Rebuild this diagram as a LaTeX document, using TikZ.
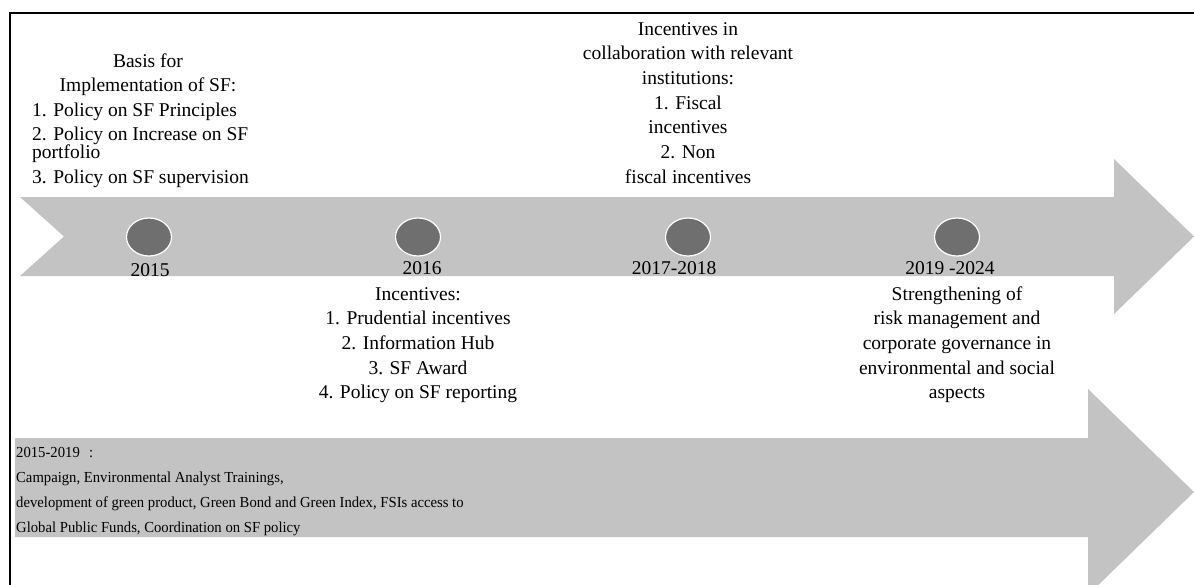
\documentclass[tikz,border=0pt]{standalone}
\usepackage{fontspec}
\setmainfont{Liberation Serif}
\newfontfamily\narrowserif[FakeStretch=0.96]{Liberation Serif}
\usetikzlibrary{shapes.geometric}
\definecolor{arrowgrey}{HTML}{C3C3C3}
\definecolor{dotgrey}{HTML}{6F6F6F}
\newcommand{\mylines}[2]{\begin{tabular}[t]{@{}#1@{}}#2\end{tabular}}
\begin{document}
\begin{tikzpicture}[x=1pt,y=-1pt,
  big/.style={font=\fontsize{19.5}{24.7}\selectfont, inner sep=0pt, anchor=base},
  small/.style={font=\narrowserif\fontsize{15.3}{25.3}\selectfont, inner sep=0pt, anchor=base west},
  dot/.style={ellipse, fill=dotgrey, draw=white, line width=1.2pt, minimum width=45pt, minimum height=38pt, inner sep=0pt},
  band/.style={fill=arrowgrey, draw=none},
  frame/.style={line width=2pt, draw=black}]
\useasboundingbox (0,0) rectangle (1194,584);
\clip (0,0) rectangle (1194,584);
% frame
\draw[frame] (10,590) -- (10,12.5) -- (1200,12.5);
% top arrow
\fill[band] (20,197) -- (1114,197) -- (1114,159) -- (1194,236.5) -- (1114,314) -- (1114,276) -- (20,276) -- (64,236.5) -- cycle;
% bottom arrow
\fill[band] (15,438) -- (1088,438) -- (1088,389) -- (1194,492) -- (1088,595) -- (1088,537) -- (15,537) -- cycle;
% dots
\node[dot] (d1) at (149,237) {};
\node[dot] (d2) at (418,237) {};
\node[dot] (d3) at (688,237) {};
\node[dot] (d4) at (957,237) {};
% years
\node[big] (y1) at (150,276) {2015};
\node[big] (y2) at (422,274) {2016};
\node[big] (y3) at (674,274) {2017-2018};
\node[big] (y4) at (950,274) {2019 -2024};
% texts
\node[big] (t1) at (148,67) {\mylines{c}{Basis for\\Implementation of SF:}};
\node[big, anchor=base west] (t1l) at (32,116) {\mylines{l}{1. Policy on SF Principles\\2. Policy on Increase on SF\\[-6.7pt]portfolio\\3. Policy on SF supervision}};
\node[big] (t2) at (688,35) {\mylines{c}{Incentives in\\collaboration with relevant\\institutions:\\1. Fiscal\\incentives\\2. Non\\fiscal incentives}};
\node[big] (t3) at (418,300) {\mylines{c}{Incentives:\\1. Prudential incentives\\2. Information Hub\\3. SF Award\\4. Policy on SF reporting}};
\node[big] (t4) at (957,300) {\mylines{c}{Strengthening of\\risk management and\\corporate governance in\\environmental and social\\aspects}};
\node[small] (t5) at (16,457) {\mylines{l}{2015-2019\hspace{0.6em}:\\Campaign, Environmental Analyst Trainings,\\development of green product, Green Bond and Green Index, FSIs access to\\Global Public Funds, Coordination on SF policy}};
\end{tikzpicture}
\end{document}
